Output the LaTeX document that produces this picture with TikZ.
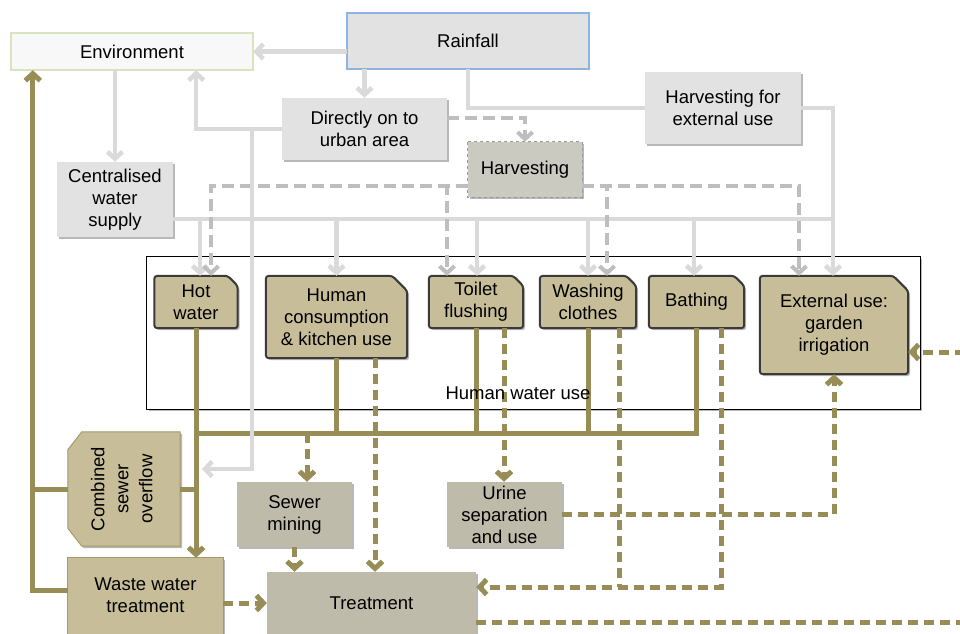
\documentclass[tikz,border=0pt]{standalone}
\usepackage{fontspec}
\usepackage{graphicx}
\setmainfont{Liberation Sans}
\usetikzlibrary{arrows.meta,shadows}
\definecolor{oliv}{HTML}{988D56}
\definecolor{usefill}{HTML}{C7BE99}
\definecolor{dkb}{HTML}{3A3A3A}
\definecolor{tfill}{HTML}{BFBBAA}
\definecolor{gfill}{HTML}{E2E2E2}
\definecolor{glin}{HTML}{DADADA}
\definecolor{gdash}{HTML}{BEBEBE}
\definecolor{envfill}{HTML}{F8F8F8}
\definecolor{envbd}{HTML}{D7E4BD}
\definecolor{rainbd}{HTML}{8DB3E2}
\definecolor{harvfill}{HTML}{CBCAC0}
\definecolor{shad}{HTML}{B8B8B8}
\definecolor{csobd}{HTML}{A39A6A}
\pgfdeclarelayer{bg}
\pgfsetlayers{bg,main}
\newcommand\fs{\fontsize{18.5}{22}\selectfont}
\newcommand\snipbox[2]{\path[usebox] (#1.south west) -- (#1.north west) -- ([xshift=-#2pt]#1.north east) -- ([yshift=-#2pt]#1.north east) -- (#1.south east) -- cycle;}
\begin{document}
\begin{tikzpicture}[x=1pt,y=-1pt,
 txt/.style={font=\fs, align=center, inner sep=0pt, text=black},
 tip/.style={-{Straight Barb[length=7pt,width=15pt]}},
 gl/.style={draw=glin, line width=4.5pt},
 garr/.style={gl, tip},
 gdl/.style={draw=gdash, line width=4pt, dash pattern=on 12pt off 6pt},
 gdarr/.style={gdl, tip},
 ol/.style={draw=oliv, line width=5pt},
 olarr/.style={ol, tip},
 odl/.style={draw=oliv, line width=5pt, dash pattern=on 10pt off 6pt},
 odarr/.style={odl, tip},
 shd/.style={drop shadow={shadow xshift=2pt,shadow yshift=-2pt,fill=shad,opacity=1}},
 usebox/.style={fill=usefill, draw=dkb, line width=2pt, rounded corners=3pt, shd},
 gbox/.style={fill=gfill, shd},
 tbox/.style={fill=tfill, shd},
 cbox/.style={fill=usefill, draw=csobd, line width=1pt, shd}
]
\useasboundingbox (0,0) rectangle (960,633);
\clip (0,0) rectangle (960,633);

% ---------- nodes ----------
\node[txt, minimum width=242, minimum height=37] (env) at (132,51.5) {Environment};
\node[txt, minimum width=242, minimum height=56] (rain) at (468,41) {Rainfall};
\node[txt, minimum width=165, minimum height=62] (direct) at (364.5,129) {Directly on to\\urban area};
\node[txt, minimum width=156, minimum height=72] (hext) at (723,108) {Harvesting for\\external use};
\node[txt, minimum width=114, minimum height=55] (harv) at (525,169.5) {Harvesting};
\node[txt, minimum width=116, minimum height=75] (cws) at (115,199.5) {Centralised\\water\\supply};
\node[minimum width=773, minimum height=152, inner sep=0pt] (huw) at (533.5,333) {};
\node[txt, minimum width=83, minimum height=52] (hot) at (196,302) {Hot\\water};
\node[txt, minimum width=141, minimum height=82] (hum) at (336.5,317) {Human\\consumption\\\& kitchen use};
\node[txt, minimum width=94, minimum height=52] (toi) at (476,302) {Toilet\\flushing};
\node[txt, minimum width=96, minimum height=52] (was) at (588,302) {Washing\\clothes};
\node[txt, minimum width=95, minimum height=52] (bat) at (696.5,302) {Bathing};
\node[txt, minimum width=148, minimum height=98] (ext) at (834,325) {External use:\\garden\\irrigation};
\node[txt, minimum width=112, minimum height=114] (cso) at (124,489)
  {\rotatebox{90}{\begin{tabular}{@{}c@{}}Combined\\[2pt]sewer\\[2pt]overflow\end{tabular}}};
\node[txt, minimum width=155, minimum height=75] (wwt) at (145.5,595.5) {Waste water\\treatment};
\node[txt, minimum width=115, minimum height=65] (sew) at (294.5,514.5) {Sewer\\mining};
\node[txt, minimum width=115, minimum height=65] (uri) at (504.5,514.5) {Urine\\separation\\and use};
\node[txt, minimum width=209, minimum height=62] (trt) at (371.5,603) {Treatment};

% ---------- helper coordinates ----------
\coordinate (busy) at (0,219);
\coordinate (bus2) at (0,433);
\coordinate (csoin) at (202,469);
\coordinate (offr) at (965,622);
\coordinate (offr2) at (965,352);
\coordinate (hotg) at ([xshift=4pt]hot.north);
\coordinate (hotd) at ([xshift=15pt]hot.north);
\coordinate (toid) at ([xshift=-29pt]toi.north);
\coordinate (toig) at ([xshift=1pt]toi.north);
\coordinate (wasd) at ([xshift=19pt]was.north);
\coordinate (batg) at ([xshift=-2.5pt]bat.north);
\coordinate (extd) at ([xshift=-35pt]ext.north);
\coordinate (extg) at ([xshift=-1pt]ext.north);
\coordinate (hl) at ([yshift=-16.5pt]harv.west);
\coordinate (hr) at ([yshift=-16.5pt]harv.east);
\coordinate (sewt) at ([xshift=12.5pt]sew.north);
\coordinate (humd) at ([xshift=38.5pt]hum.south);
\coordinate (toiu) at ([xshift=28pt]toi.south);
\coordinate (wasu) at ([xshift=31pt]was.south);
\coordinate (batu) at ([xshift=24.5pt]bat.south);
\coordinate (trtin) at ([yshift=16pt]trt.east);
\coordinate (envl) at ([xshift=22pt]env.south west);

% ---------- background shapes ----------
\begin{pgfonlayer}{bg}
\path[fill=white, draw=black, line width=0.8pt, shd] (huw.north west) rectangle (huw.south east);
\path[fill=envfill, draw=envbd, line width=1.5pt] (env.north west) rectangle (env.south east);
\path[fill=gfill, draw=rainbd, line width=1.5pt] (rain.north west) rectangle (rain.south east);
\path[gbox] (direct.north west) rectangle (direct.south east);
\path[gbox] (hext.north west) rectangle (hext.south east);
\path[gbox] (cws.north west) rectangle (cws.south east);
\path[fill=harvfill, draw=gray!80, line width=0.8pt, dashed, shd] (harv.north west) rectangle (harv.south east);
\snipbox{hot}{10}
\snipbox{hum}{15}
\snipbox{toi}{10}
\snipbox{was}{10}
\snipbox{bat}{10}
\snipbox{ext}{15}
\path[cbox] ([yshift=-18pt]cso.north west) -- ([xshift=14pt]cso.north west) -- (cso.north east) -- (cso.south east) -- ([xshift=14pt]cso.south west) -- ([yshift=18pt]cso.south west) -- cycle;
\path[cbox] (wwt.north west) rectangle ([yshift=-10pt]wwt.south east);
\path[tbox] (sew.north west) rectangle (sew.south east);
\path[tbox] (uri.north west) rectangle (uri.south east);
\path[tbox] (trt.north west) rectangle ([yshift=-10pt]trt.south east);
\end{pgfonlayer}

% ---------- grey connectors ----------
\draw[garr] (rain.west |- env.east) -- (env.east);
\draw[garr] (rain.south -| direct.north) -- (direct.north);
\draw[gl] (rain.south) |- (hext.west);
\draw[garr] (hext.east) -| (extg);
\draw[garr] (env.south -| cws.north) -- (cws.north);
\draw[garr] (direct.west) -| ([xshift=-57pt]env.south east);
\draw[gl] ([yshift=-19.5pt]cws.east) -- (extg |- busy);
\draw[garr] (hotg |- busy) -- (hotg);
\draw[garr] (hum.north |- busy) -- (hum.north);
\draw[garr] (toig |- busy) -- (toig);
\draw[garr] (was.north |- busy) -- (was.north);
\draw[garr] (batg |- busy) -- (batg);
\draw[gdarr] (hl) -| (toid);
\draw[gdarr] (hl) -| (hotd);
\draw[gdarr] (hr) -| (wasd);
\draw[gdarr] (hr) -| (extd);
\draw[gdarr] ([yshift=11pt]direct.east) -| (harv.north);

% ---------- olive solid ----------
\draw[olarr] (hot.south) -- (hot.south |- wwt.north);
\draw[ol] (bat.south) |- (hot.south |- bus2);
\draw[ol] (hum.south) -- (hum.south |- bus2);
\draw[ol] (toi.south) -- (toi.south |- bus2);
\draw[ol] (was.south) -- (was.south |- bus2);
\draw[ol] (cso.east) -- (hot.south |- cso.east);
\draw[ol] (cso.west) -- (envl |- cso.west);
\draw[olarr] ([yshift=5pt]wwt.west) -| (envl);

% grey line to CSO (drawn over olive bus)
\draw[garr] ([xshift=-30pt]direct.west) |- (csoin);

% ---------- olive dashed ----------
\draw[odarr] (sewt |- bus2) -- (sewt);
\draw[odarr] (humd) -- (humd |- trt.north);
\draw[odarr] (toiu) -- (toiu |- uri.north);
\draw[odl] (wasu) -- (wasu |- trtin);
\draw[odarr] (batu) |- (trtin);
\draw[odarr] (uri.east) -| (ext.south);
\draw[odarr] (sew.south) -- (sew.south |- trt.north);
\draw[odarr] (wwt.east |- trt.west) -- (trt.west);
\draw[odl] ([yshift=-19pt]trt.east) -- (offr);
\draw[odarr] (offr2) -- (ext.east |- offr2);

\node[txt] (huwl) at (518,393) {Human water use};
\end{tikzpicture}
\end{document}
